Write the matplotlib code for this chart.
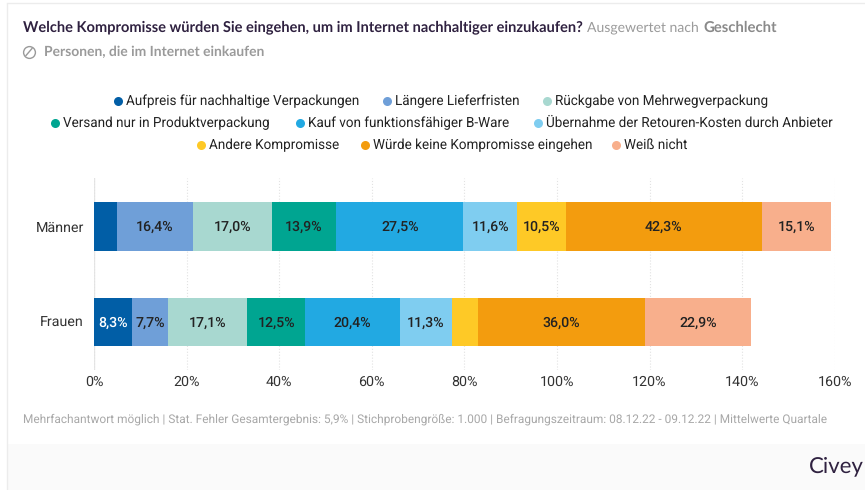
import matplotlib
matplotlib.use('Agg')
import matplotlib.pyplot as plt

plt.rcParams['text.hinting'] = 'no_hinting'

groups = ['Männer', 'Frauen']
answers = ['Aufpreis für nachhaltige Verpackungen', 'Längere Lieferfristen',
           'Rückgabe von Mehrwegverpackung', 'Versand nur in Produktverpackung',
           'Kauf von funktionsfähiger B-Ware', 'Übernahme der Retouren-Kosten durch Anbieter',
           'Andere Kompromisse', 'Würde keine Kompromisse eingehen', 'Weiß nicht']
maenner = [5.0, 16.4, 17.0, 13.9, 27.5, 11.6, 10.5, 42.3, 15.1]
frauen = [8.3, 7.7, 17.1, 12.5, 20.4, 11.3, 5.7, 36.0, 22.9]
colors = ['#015ea6', '#6f9fd8', '#a8d8d0', '#00a591', '#22a9e2',
          '#7fcdf0', '#fec926', '#f39c0e', '#f8af8c']
ticks = [0, 20, 40, 60, 80, 100, 120, 140, 160]

W, H = 865, 490
fig = plt.figure(figsize=(W / 100, H / 100), dpi=100, facecolor='white')

# Hintergrund in Pixelkoordinaten
bg = fig.add_axes([0, 0, 1, 1])
bg.set_xlim(0, W)
bg.set_ylim(H, 0)
bg.axis('off')
bg.fill_between([7, W], 444, H, color='#fafafa', lw=0)
bg.plot([6.5, 6.5], [4, H], color='#ececec', lw=1)
bg.plot([6.5, W], [3.5, 3.5], color='#ececec', lw=1)

dark = '#2f2140'
grey = '#9a9a9a'
bg.text(23, 27.5, 'Welche Kompromisse würden Sie eingehen, um im Internet nachhaltiger einzukaufen?',
        family='Lato', weight='bold', fontsize=10.55, color=dark, va='center')
bg.text(587, 27.5, 'Ausgewertet nach', family='Lato', fontsize=10.1, color=grey, va='center')
bg.text(703, 27.5, 'Geschlecht', family='Lato', weight='bold', fontsize=10.7, color='#8a8a8a', va='center')
bg.plot(29, 52, 'o', ms=8.5, mfc='none', mec=grey, mew=1)
bg.plot([26, 32], [55.5, 48.5], color=grey, lw=1)
bg.text(44, 52, 'Personen, die im Internet einkaufen', family='Lato', weight='bold',
        fontsize=10, color=grey, va='center')

# Legende
leg_x = [118, 387, 547, 55, 299.5, 538, 201, 365, 616]
leg_y = [101, 101, 101, 123, 123, 123, 145, 145, 145]
for name, c, x, y in zip(answers, colors, leg_x, leg_y):
    bg.plot(x, y, 'o', ms=6.5, color=c, mew=0)
    bg.text(x + 8, y + 0.5, name, family='Roboto', fontsize=9.73, color='#222222', va='center')

bg.text(23, 419, 'Mehrfachantwort möglich | Stat. Fehler Gesamtergebnis: 5,9% | Stichprobengröße: 1.000 | '
        'Befragungszeitraum: 08.12.22 - 09.12.22 | Mittelwerte Quartale',
        family='Roboto', fontsize=8.54, color='#a8a8a8', va='center')
bg.text(864, 466, 'Civey', family='Lato', fontsize=16, color=dark, va='center', ha='right')

# Balken
left, right, top, bottom = 94, 834.7, 178, 370
ax = fig.add_axes([left / W, 1 - bottom / H, (right - left) / W, (bottom - top) / H])
ax.patch.set_alpha(0)
ax.set_xlim(0, 160)
ax.set_ylim(1.503, -0.508)
ax.set_axisbelow(True)

starts = [0, 0]
for i, c in enumerate(colors):
    vals = [maenner[i], frauen[i]]
    ax.barh([0, 1], vals, left=starts, height=0.508, color=c, linewidth=0)
    for j, v in enumerate(vals):
        if v >= 6:
            ax.text(starts[j] + v / 2, j + 0.006, f'{v:.1f}%'.replace('.', ','), ha='center', va='center',
                    family='Roboto', weight='medium', fontsize=10.2,
                    color='white' if i == 0 else '#222222')
    starts = [starts[0] + vals[0], starts[1] + vals[1]]

ax.set_xticks(ticks)
ax.set_xticklabels([f'{t}%' for t in ticks], family='Roboto', fontsize=10.3, color='#333333')
ax.set_yticks([0, 1])
ax.set_yticklabels(groups, family='Roboto', fontsize=10.3, color='#333333')
ax.tick_params(length=0)
ax.tick_params(axis='x', pad=4)
ax.tick_params(axis='y', pad=11)
ax.xaxis.grid(True, color='#e2e2e2', lw=0.8, ls=':')
ax.axvline(0, color='#e6e6e6', lw=1, zorder=0)
for s in ax.spines.values():
    s.set_visible(False)
for lab in ax.get_yticklabels():
    lab.set_x(0.007)

fig.savefig('out.png', dpi=100)
